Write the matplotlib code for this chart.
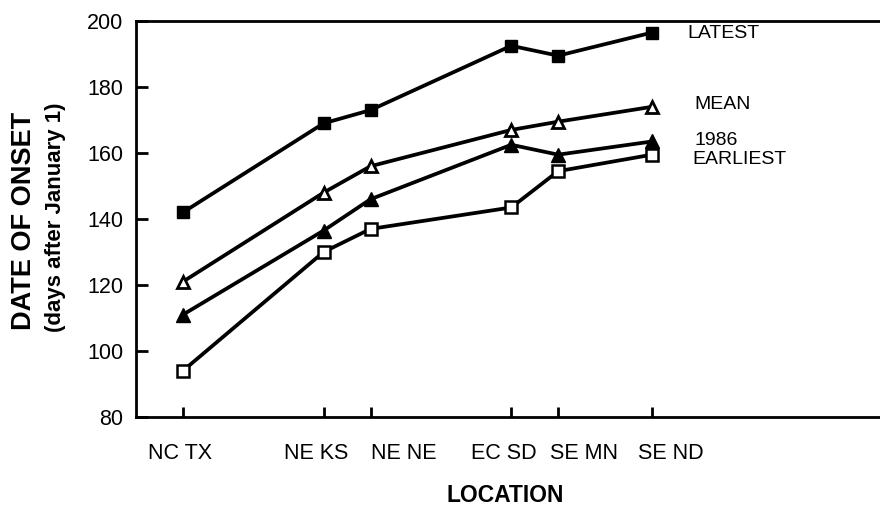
import numpy as np
import matplotlib
matplotlib.use('Agg')
import matplotlib.pyplot as plt
import matplotlib.transforms as mtransforms

plt.rcParams['font.family'] = ['Liberation Sans', 'DejaVu Sans']

# Locations and their relative spacing along the axis
locations = ['NC TX', 'NE KS', 'NE NE', 'EC SD', 'SE MN', 'SE ND']
loc_pos = [0, 3, 4, 7, 8, 10]

# Date of onset (days after January 1)
latest = [142, 169, 173, 192.5, 189.5, 196.5]
mean = [121, 148, 156, 167, 169.5, 174]
yr1986 = [111, 136.5, 146, 162.5, 159.5, 163.5]
earliest = [94, 130, 137, 143.5, 154.5, 159.5]

fig = plt.figure(figsize=(8.8, 5.09), dpi=100)
ax = fig.add_axes([0.1545, 0.1807, 0.8455, 0.778])

lw = 2.7
ax.plot(loc_pos, latest, color='black', lw=lw, marker='s', ms=9, mfc='black', mec='black')
ax.plot(loc_pos, mean, color='black', lw=lw, marker='^', ms=9, mfc='white', mec='black', mew=2)
ax.plot(loc_pos, yr1986, color='black', lw=lw, marker='^', ms=9.5, mfc='black', mec='black')
ax.plot(loc_pos, earliest, color='black', lw=lw, marker='s', ms=8, mfc='white', mec='black', mew=1.8)

# series labels to the right of the last point
ax.text(10.75, 196.2, 'LATEST', fontsize=14, va='center', ha='left')
ax.text(10.9, 174.8, 'MEAN', fontsize=14, va='center', ha='left')
ax.text(10.9, 163.8, '1986', fontsize=14, va='center', ha='left')
ax.text(10.85, 158, 'EARLIEST', fontsize=14, va='center', ha='left')

ax.set_xlim(-1, 14.86)
ax.set_ylim(80, 200)
ax.set_xticks(loc_pos)
ax.set_xticklabels(locations)
ax.set_yticks(np.arange(80, 201, 20))

ax.spines['right'].set_visible(False)
for s in ['left', 'top', 'bottom']:
    ax.spines[s].set_linewidth(2)
ax.tick_params(axis='y', direction='in', length=8.5, width=2, labelsize=15.5, pad=9)
ax.tick_params(axis='x', direction='in', length=7.5, width=2, labelsize=15.5, pad=19)

# the location labels are not centred on their ticks in the original
label_shift = [-2.5, -7, 33, -7.5, 26, 18.5]
for lab, dx in zip(ax.get_xticklabels(), label_shift):
    lab.set_transform(lab.get_transform() +
                      mtransforms.ScaledTranslation(dx / 100, 0, fig.dpi_scale_trans))

fig.text(505 / 880, 1 - 496 / 509, 'LOCATION', fontsize=16.5, fontweight='bold',
         ha='center', va='center')
fig.text(24 / 880, 1 - 221 / 509, 'DATE OF ONSET', rotation=90, fontsize=19.5,
         fontweight='bold', ha='center', va='center')
fig.text(55 / 880, 1 - 217 / 509, '(days after January 1)', rotation=90, fontsize=16,
         fontweight='bold', ha='center', va='center')

fig.savefig('out.png', dpi=100)
